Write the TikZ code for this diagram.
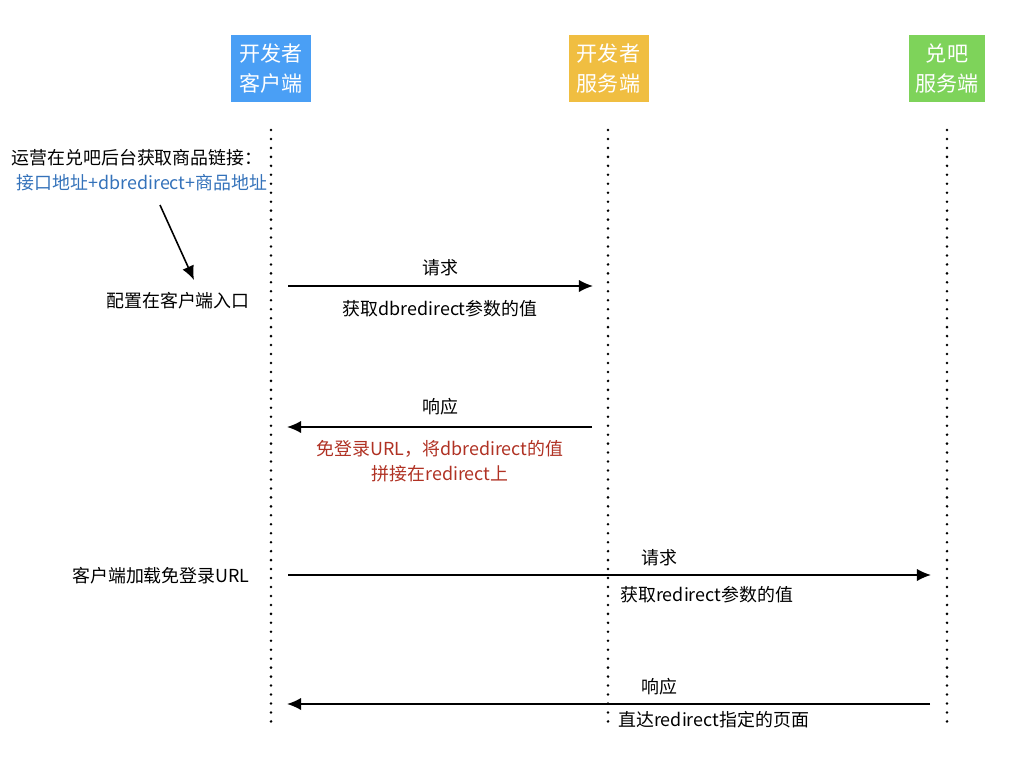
\documentclass[tikz,border=0pt]{standalone}
\usepackage{fontspec}
\setmainfont{Noto Sans CJK SC}
\usetikzlibrary{arrows.meta,positioning}
\definecolor{clientblue}{RGB}{74,159,245}
\definecolor{serverorange}{RGB}{240,190,65}
\definecolor{duibagreen}{RGB}{126,211,90}
\definecolor{linkblue}{RGB}{52,114,186}
\definecolor{noteRed}{RGB}{176,50,36}
\tikzstyle{actor} = [
  shape=rectangle,
  text=white,
  align=center,
  minimum width=1.6cm,
  minimum height=1.34cm,
  inner sep=0pt,
  font=\fontsize{12}{17.6}\selectfont]
\tikzstyle{lifeline} = [
  line width=1.6pt,
  line cap=round,
  dash pattern=on 0pt off 5.1pt]
\tikzstyle{msg} = [
  line width=0.9pt,
  -{Latex[length=8pt,width=7pt]}]
\tikzstyle{lbl} = [
  inner sep=0pt,
  font=\fontsize{10.2}{14.2}\selectfont]

\begin{document}
\begin{tikzpicture}[x=0.02cm, y=-0.02cm]
  \useasboundingbox (0,0) rectangle (1024,768);
  % actors
  \node[actor, fill=clientblue] (client) at (271,68.5) {开发者\\客户端};
  \node[actor, fill=serverorange] (server) at (608.5,68.5) {开发者\\服务端};
  \node[actor, fill=duibagreen, minimum width=1.52cm] (duiba) at (947,68.5) {兑吧\\服务端};
  % lifelines
  \coordinate (clientTop) at (271,130);
  \coordinate (clientEnd) at (271,725);
  \coordinate (serverTop) at (608,130);
  \coordinate (serverEnd) at (608,725);
  \coordinate (duibaTop) at (947,130);
  \coordinate (duibaEnd) at (947,725);
  \draw[lifeline] (clientTop) -- (clientEnd);
  \draw[lifeline] (serverTop) -- (serverEnd);
  \draw[lifeline] (duibaTop) -- (duibaEnd);
  % left notes
  \node[lbl] (fetch) at (137,158) {运营在兑吧后台获取商品链接：};
  \node[lbl, text=linkblue] (link) at (142,183) {接口地址+dbredirect+商品地址};
  \node[lbl] (config) at (178,301) {配置在客户端入口};
  \coordinate (noteFrom) at (160,205);
  \coordinate (noteTo) at (194,280);
  \draw[msg] (noteFrom) -- (noteTo);
  \node[lbl] (load) at (161,576) {客户端加载免登录URL};
  % messages
  \coordinate (req1From) at (288,286);
  \coordinate (req1To) at (593,286);
  \draw[msg] (req1From) -- (req1To);
  \node[lbl] (req1) at (440,268) {请求};
  \node[lbl] (req1Note) at (440,309) {获取dbredirect参数的值};
  \coordinate (res1From) at (592,427);
  \coordinate (res1To) at (287,427);
  \draw[msg] (res1From) -- (res1To);
  \node[lbl] (res1) at (440,407) {响应};
  \node[lbl, text=noteRed, align=center] (res1Note) at (440,461.5)
    {免登录URL，将dbredirect的值\\拼接在redirect上};
  \coordinate (req2From) at (288,575);
  \coordinate (req2To) at (931,575);
  \draw[msg] (req2From) -- (req2To);
  \node[lbl] (req2) at (659,558) {请求};
  \node[lbl, anchor=west] (req2Note) at (620,595) {获取redirect参数的值};
  \coordinate (res2From) at (930,704);
  \coordinate (res2To) at (287,704);
  \draw[msg] (res2From) -- (res2To);
  \node[lbl] (res2) at (659,687) {响应};
  \node[lbl, anchor=west] (res2Note) at (618,720) {直达redirect指定的页面};
\end{tikzpicture}
\end{document}
